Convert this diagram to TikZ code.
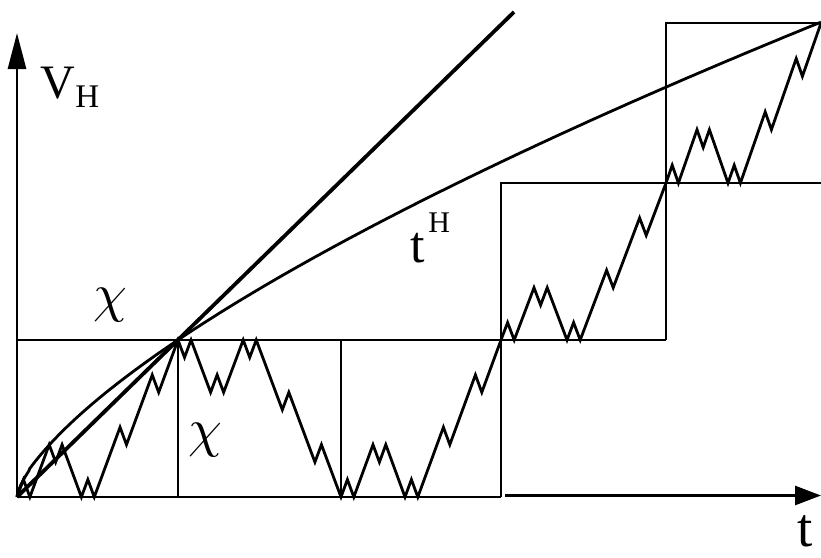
\documentclass[tikz,border=0pt]{standalone}
\usepackage{fontspec}
\setmainfont{Liberation Serif}
\usetikzlibrary{arrows.meta}
\begin{document}
\begin{tikzpicture}[x=1pt,y=-1pt,
  line width=2.8pt,
  boldline/.style={line width=3.8pt},
  axisarrow/.style={-{Triangle[length=36pt,width=18pt]}},
  taxisarrow/.style={-{Triangle[length=26pt,width=19pt]}},
  lbl/.style={inner sep=0pt, anchor=base west},
  chilbl/.style={inner sep=0pt, scale=5.4}]
\useasboundingbox (0,0) rectangle (821,557);
% fractal zigzag: generator signs (+,-,+,+,+), 3 levels
\def\zgen{{1,-1,1,1,1}}
\def\zcum{{0,1,0,1,2,3}}
\def\zbx{{17,178,341,501,666,821}}
\def\zlv{{497,340,497,340,183,23}}
\gdef\zpath{}
\foreach \a in {0,...,4}{
 \foreach \b in {0,...,4}{
  \foreach \c in {1,...,5}{
   \pgfmathsetmacro\zx{\zbx[\a]+(\zbx[\a+1]-\zbx[\a])*(5*\b+\c)/25}
   \pgfmathsetmacro\zy{\zlv[\a]+(\zlv[\a+1]-\zlv[\a])*(\zcum[\b]+\zgen[\b]*\zcum[\c]/3)/3}
   \xdef\zpath{\zpath -- (\zx,\zy)}
 }}}
% staircase
\draw (17,340) -- (666,340);
\draw (17,497) -- (501,497);
\draw (178,340) -- (178,497);
\draw (341,340) -- (341,497);
\draw (501,497) -- (501,183) -- (821,183);
\draw (666,340) -- (666,23) -- (821,23);
% axes
\draw[axisarrow] (17,497) -- (17,33);
\draw[taxisarrow] (505,495.5) -- (821,495.5);
% zigzag
\draw[miter limit=10] (17,497) \zpath;
% t^H curve
\draw (17,497) -- plot[domain=0.002:1, samples=300] ({17+804*\x*\x},{497-474.9*(\x)^1.376});
% straight line
\draw[boldline] (17,497) -- (514,12);
% labels
\node[lbl, font=\fontsize{48}{48}\selectfont] (vlab) at (39,98) {V};
\node[lbl, font=\fontsize{33}{33}\selectfont] (vsub) at (74,107) {H};
\node[lbl, font=\fontsize{52}{52}\selectfont] (tlab) at (409,262) {t};
\node[lbl, font=\fontsize{30}{30}\selectfont] (tsup) at (427,232) {H};
\node[lbl, font=\fontsize{55}{55}\selectfont] (taxis) at (796,546) {t};
\node[chilbl] (chione) at (110,305) {$\chi$};
\node[chilbl] (chitwo) at (205,440) {$\chi$};
\end{tikzpicture}
\end{document}
